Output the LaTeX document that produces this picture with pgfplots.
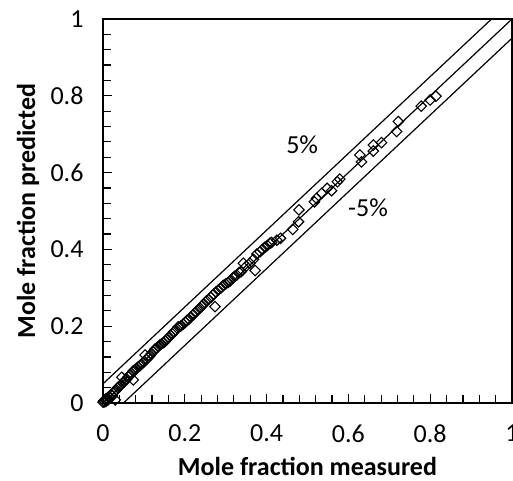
\documentclass[border=0pt]{standalone}
\usepackage{pgfplots}
\usepackage{pgfplotstable}
\usepackage{fontspec}
\setmainfont{Carlito}
\pgfplotsset{compat=1.18}
\pgfplotstableread{
x y
0.000 0.002
0.002 0.006
0.004 0.003
0.006 0.010
0.008 0.005
0.010 0.012
0.012 0.008
0.015 0.016
0.018 0.014
0.020 0.022
0.023 0.019
0.025 0.026
0.028 0.030
0.030 0.008
0.033 0.034
0.036 0.040
0.040 0.043
0.043 0.046
0.046 0.067
0.048 0.052
0.052 0.055
0.055 0.060
0.058 0.062
0.062 0.068
0.066 0.074
0.070 0.077
0.074 0.060
0.074 0.084
0.078 0.086
0.082 0.090
0.086 0.094
0.090 0.097
0.094 0.101
0.099 0.106
0.103 0.125
0.106 0.113
0.110 0.118
0.114 0.122
0.118 0.128
0.123 0.134
0.127 0.140
0.131 0.143
0.135 0.147
0.139 0.151
0.143 0.154
0.148 0.157
0.152 0.161
0.156 0.165
0.160 0.170
0.165 0.176
0.170 0.180
0.174 0.186
0.178 0.190
0.184 0.198
0.190 0.200
0.196 0.205
0.201 0.210
0.205 0.215
0.210 0.218
0.215 0.224
0.221 0.230
0.226 0.236
0.232 0.242
0.237 0.247
0.242 0.253
0.247 0.258
0.253 0.266
0.258 0.270
0.264 0.275
0.270 0.283
0.274 0.251
0.276 0.289
0.282 0.294
0.288 0.299
0.294 0.306
0.300 0.310
0.306 0.314
0.311 0.318
0.318 0.326
0.322 0.330
0.327 0.333
0.333 0.340
0.338 0.342
0.343 0.364
0.350 0.356
0.359 0.364
0.368 0.374
0.372 0.345
0.376 0.388
0.384 0.394
0.390 0.400
0.396 0.406
0.402 0.410
0.408 0.416
0.412 0.418
0.425 0.424
0.434 0.429
0.464 0.452
0.478 0.472
0.479 0.503
0.517 0.524
0.522 0.533
0.535 0.546
0.548 0.559
0.559 0.553
0.573 0.576
0.579 0.583
0.628 0.646
0.632 0.628
0.661 0.656
0.661 0.672
0.681 0.678
0.718 0.707
0.722 0.733
0.778 0.773
0.800 0.789
0.814 0.799
}\datatable
\begin{document}
\begin{tikzpicture}
\begin{axis}[
  at={(103pt,77pt)}, anchor=south west,
  scale only axis, width=409pt, height=384pt,
  xmin=0, xmax=1, ymin=0, ymax=1,
  xtick={0,0.2,0.4,0.6,0.8,1}, ytick={0,0.2,0.4,0.6,0.8,1},
  minor tick num=4,
  tick pos=left, tick align=inside,
  major tick length=9pt, minor tick length=8pt,
  every tick/.style={black, line width=1.2pt},
  axis line style={line width=1.6pt},
  font=\fontsize{26}{31}\selectfont,
  /pgf/number format/assume math mode=true,
  xticklabel style={yshift=-18pt},
  yticklabel style={xshift=-16pt},
  xlabel={\bfseries Mole fraction measured},
  ylabel={\bfseries Mole fraction predicted},
  every axis x label/.style={at={(axis description cs:0.5,-0.1875)}, anchor=base},
  every axis y label/.style={at={(axis description cs:-0.1834,0.5)}, rotate=90, anchor=center},
  clip=false,
]
\addplot[black, line width=1.2pt] coordinates {(0,0) (1,1)};
\addplot[black, line width=1.2pt] coordinates {(0,0.05) (0.95,1)};
\addplot[black, line width=1.2pt] coordinates {(0.05,0) (1,0.95)};
\addplot[only marks, mark=square, mark size=3.7pt, mark options={black, fill=white, line width=1.1pt, rotate=45}] table[x=x, y=y] {\datatable};
\node[font=\fontsize{26}{31}\selectfont] at (axis cs:0.487,0.672) {5\%};
\node[font=\fontsize{26}{31}\selectfont] at (axis cs:0.648,0.508) {-5\%};
\end{axis}
\pgfresetboundingbox
\path[use as bounding box] (0,0) rectangle (513pt,480pt);
\end{tikzpicture}
\end{document}
